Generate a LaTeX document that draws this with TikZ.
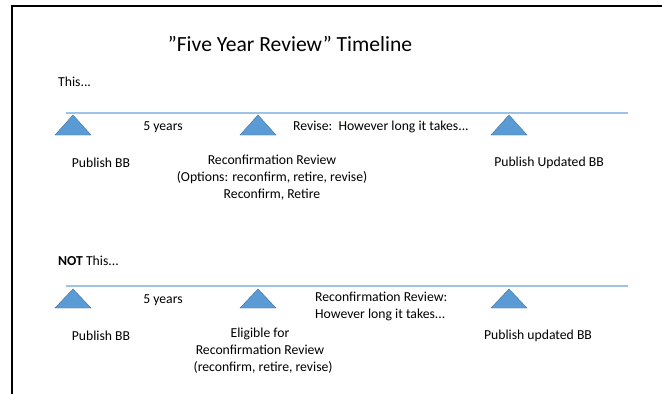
\documentclass[tikz,border=0pt]{standalone}
\usepackage{fontspec}
\setmainfont{Carlito}
\definecolor{lineblue}{RGB}{157,195,230}
\definecolor{triblue}{RGB}{91,155,213}
\definecolor{triedge}{RGB}{65,113,156}
\tikzset{
  stage/.style={draw=triedge,fill=triblue,line width=0.4pt},
  label/.style={font=\fontsize{13.7}{17}\selectfont,align=center,inner sep=0pt},
  time/.style={lineblue,line width=1.3pt}
}
\begin{document}
\begin{tikzpicture}[x=1pt,y=-1pt]
\useasboundingbox (0,0) rectangle (662,394);
\fill[white] (0,0) rectangle (662,394);
% frame
\draw [line width=2pt] (662,6) -- (12,6) -- (12,394);

\node [font=\fontsize{21.6}{25}\selectfont,inner sep=0pt] (title) at (290,44) {\symbol{34}Five Year Review\symbol{34} Timeline};

% first timeline
\node [label,anchor=west] (this) at (58,82) {This...};
\coordinate (a1) at (66,113);
\coordinate (a2) at (628,113);
\draw [time] (a1) -- (a2);
\foreach \x/\n in {73/p1,258/p2,509/p3}{
  \draw [stage] (\x-18,135) -- (\x,115) -- (\x+18,135) -- cycle;
  \coordinate (\n) at (\x,135);
}
\node [label] (yrs1) at (163,127) {5 years};
\node [label,anchor=west] (rev1) at (293,127) {Revise:\ \ However long it takes...};
\node [label] (pub1) at (101,163) {Publish BB};
\node [label,anchor=north] (rc1) at (272,155) {Reconfirmation Review\\(Options: reconfirm, retire, revise)\\Reconfirm, Retire};
\node [label] (upd1) at (549,163) {Publish Updated BB};

% second timeline
\node [label,anchor=west] (nthis) at (58,261) {\textbf{NOT} This...};
\coordinate (b1) at (66,286);
\coordinate (b2) at (628,286);
\draw [time] (b1) -- (b2);
\foreach \x/\n in {73/q1,258/q2,509/q3}{
  \draw [stage] (\x-18,308) -- (\x,289) -- (\x+18,308) -- cycle;
  \coordinate (\n) at (\x,308);
}
\node [label] (yrs2) at (163,300) {5 years};
\node [label,anchor=north west,align=left] (rev2) at (315,292) {Reconfirmation Review:\\However long it takes...};
\node [label] (pub2) at (101,336) {Publish BB};
\node [label,anchor=north] (el2) at (260,328) {Eligible for\\Reconfirmation Review\\\ \ (reconfirm, retire, revise)};
\node [label] (upd2) at (538,336) {Publish updated BB};
\end{tikzpicture}
\end{document}
